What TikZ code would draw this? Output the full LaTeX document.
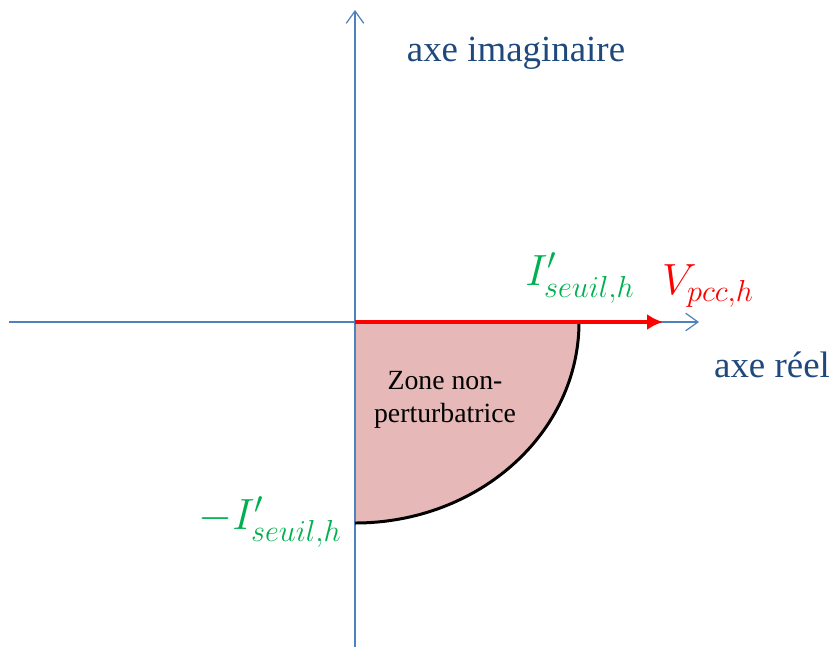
\documentclass[tikz,border=0pt]{standalone}
\usepackage{amsmath}
\usepackage{fontspec}
\setmainfont{Liberation Serif}
\usepackage{xcolor}
\usetikzlibrary{arrows.meta,positioning}
\definecolor{axisblue}{RGB}{79,129,189}
\definecolor{labelblue}{RGB}{31,73,125}
\definecolor{seuilgreen}{RGB}{0,176,80}
\definecolor{zonepink}{RGB}{230,185,184}
\tikzset{
  axisline/.style={axisblue,line width=0.7pt,-{Straight Barb[length=7pt,width=10pt]}},
  axislabel/.style={text=labelblue,font=\fontsize{21}{25}\selectfont},
  mathlabel/.style={font=\fontsize{23}{27}\selectfont},
}

\begin{document}
\begin{tikzpicture}[x=0.02cm,y=-0.02cm,>=Latex]
\useasboundingbox (0,0) rectangle (834,647);
\coordinate (O) at (355,322);
\coordinate (xmin) at (9,322);
\coordinate (xmax) at (699,322);
\coordinate (ymin) at (355,647);
\coordinate (ymax) at (355,10);
\coordinate (seuil) at (579,322);
\coordinate (vend) at (663,322);
% zone non-perturbatrice
\fill[zonepink] (O) -- (seuil) arc[start angle=0,end angle=90,x radius=224,y radius=201] -- cycle;
\draw[axisline] (xmin) -- (xmax);
\draw[axisline] (ymin) -- (ymax);
\draw[line width=1.7pt] (seuil) arc[start angle=0,end angle=90,x radius=224,y radius=201];
\draw[red,line width=2.4pt,-{Latex[length=9pt,width=9pt]}] (O) -- (vend);
% labels
\node[axislabel] (im) at (516,53) {axe imaginaire};
\node[axislabel] (re) at (772,365) {axe réel};
\node[mathlabel,text=seuilgreen] (iplus) at (580,278) {$I'_{seuil,h}$};
\node[mathlabel,text=red] (vpcc) at (708,286) {$V_{pcc,h}$};
\node[mathlabel,text=seuilgreen] (iminus) at (270,522) {$-I'_{seuil,h}$};
\node[align=center,font=\fontsize{15.8}{18.8}\selectfont] (zone) at (445,400) {Zone non-\\perturbatrice};
\end{tikzpicture}
\end{document}
